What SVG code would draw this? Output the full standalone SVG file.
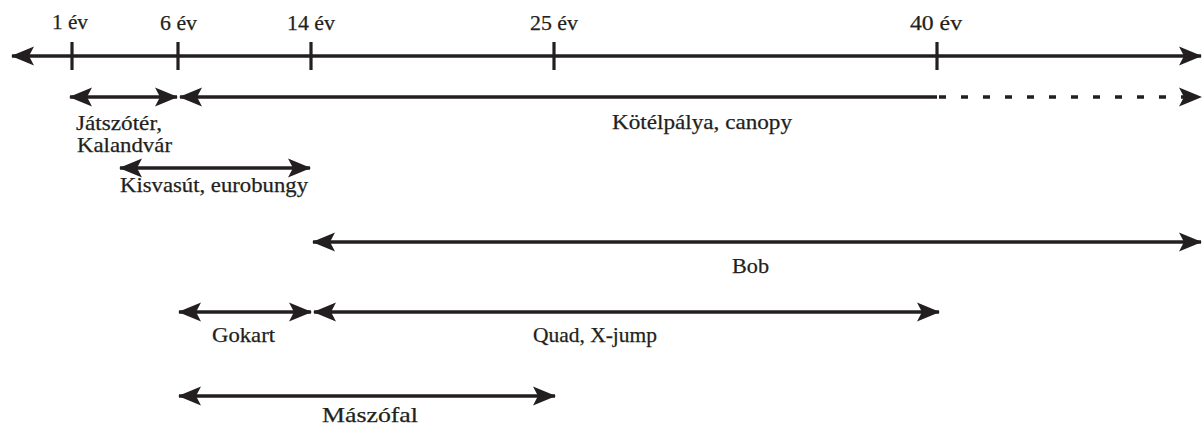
<svg xmlns="http://www.w3.org/2000/svg" width="1203" height="426" viewBox="0 0 1203 426">
<defs>
<marker id="ah" markerUnits="userSpaceOnUse" markerWidth="26" markerHeight="22" viewBox="-24 -11 26 22" refX="0" refY="0" orient="auto-start-reverse">
<path d="M1,0 L-22,-9.5 L-17,0 L-22,9.5 Z" fill="#231f20"/>
</marker>
</defs>
<style>
.ln{stroke:#231f20;stroke-width:3.6;fill:none}
.tk{stroke:#231f20;stroke-width:3.2}
.lbl{font-family:"Liberation Serif","Times New Roman",serif;font-size:21px;fill:#231f20;stroke:#231f20;stroke-width:0.25}
</style>
<rect width="1203" height="426" fill="#ffffff"/>
<g id="connectors">
<line id="axis" class="ln" x1="12" y1="56" x2="1201" y2="56" marker-start="url(#ah)" marker-end="url(#ah)"/>
<line class="tk" x1="72" y1="42" x2="72" y2="70"/>
<line class="tk" x1="178" y1="42" x2="178" y2="70"/>
<line class="tk" x1="311" y1="42" x2="311" y2="70"/>
<line class="tk" x1="554" y1="42" x2="554" y2="70"/>
<line class="tk" x1="937" y1="42" x2="937" y2="70"/>
<line class="ln" x1="70" y1="97" x2="177" y2="97" marker-start="url(#ah)" marker-end="url(#ah)"/>
<line class="ln" x1="180" y1="97" x2="937" y2="97" marker-start="url(#ah)"/>
<line class="ln" x1="939" y1="97" x2="1201" y2="97" stroke-dasharray="7 15" marker-end="url(#ah)"/>
<line class="ln" x1="120" y1="168" x2="310" y2="168" marker-start="url(#ah)" marker-end="url(#ah)"/>
<line class="ln" x1="313" y1="242" x2="1201" y2="242" marker-start="url(#ah)" marker-end="url(#ah)"/>
<line class="ln" x1="179" y1="312" x2="311" y2="312" marker-start="url(#ah)" marker-end="url(#ah)"/>
<line class="ln" x1="314" y1="312" x2="939" y2="312" marker-start="url(#ah)" marker-end="url(#ah)"/>
<line class="ln" x1="179" y1="396" x2="555" y2="396" marker-start="url(#ah)" marker-end="url(#ah)"/>
</g>
<g id="ticks-labels">
<text class="lbl" x="52" y="29" textLength="36" lengthAdjust="spacingAndGlyphs">1 év</text>
<text class="lbl" x="160" y="30" textLength="37" lengthAdjust="spacingAndGlyphs">6 év</text>
<text class="lbl" x="287" y="30" textLength="48" lengthAdjust="spacingAndGlyphs">14 év</text>
<text class="lbl" x="530" y="30" textLength="48" lengthAdjust="spacingAndGlyphs">25 év</text>
<text class="lbl" x="910" y="30" textLength="52" lengthAdjust="spacingAndGlyphs">40 év</text>
</g>
<g id="jatszoter">
<text class="lbl" x="76" y="130" textLength="86" lengthAdjust="spacingAndGlyphs">Játszótér,</text>
<text class="lbl" x="77" y="152" textLength="95" lengthAdjust="spacingAndGlyphs">Kalandvár</text>
</g>
<g id="kotelpalya"><text class="lbl" x="612" y="129" textLength="180" lengthAdjust="spacingAndGlyphs">Kötélpálya, canopy</text></g>
<g id="kisvasut"><text class="lbl" x="120" y="192" textLength="188" lengthAdjust="spacingAndGlyphs">Kisvasút, eurobungy</text></g>
<g id="bob"><text class="lbl" x="732" y="273" textLength="37" lengthAdjust="spacingAndGlyphs">Bob</text></g>
<g id="gokart"><text class="lbl" x="212" y="342" textLength="63" lengthAdjust="spacingAndGlyphs">Gokart</text></g>
<g id="quad"><text class="lbl" x="533" y="342" textLength="124" lengthAdjust="spacingAndGlyphs">Quad, X-jump</text></g>
<g id="maszofal"><text class="lbl" x="322" y="422" textLength="96" lengthAdjust="spacingAndGlyphs">Mászófal</text></g>
</svg>
